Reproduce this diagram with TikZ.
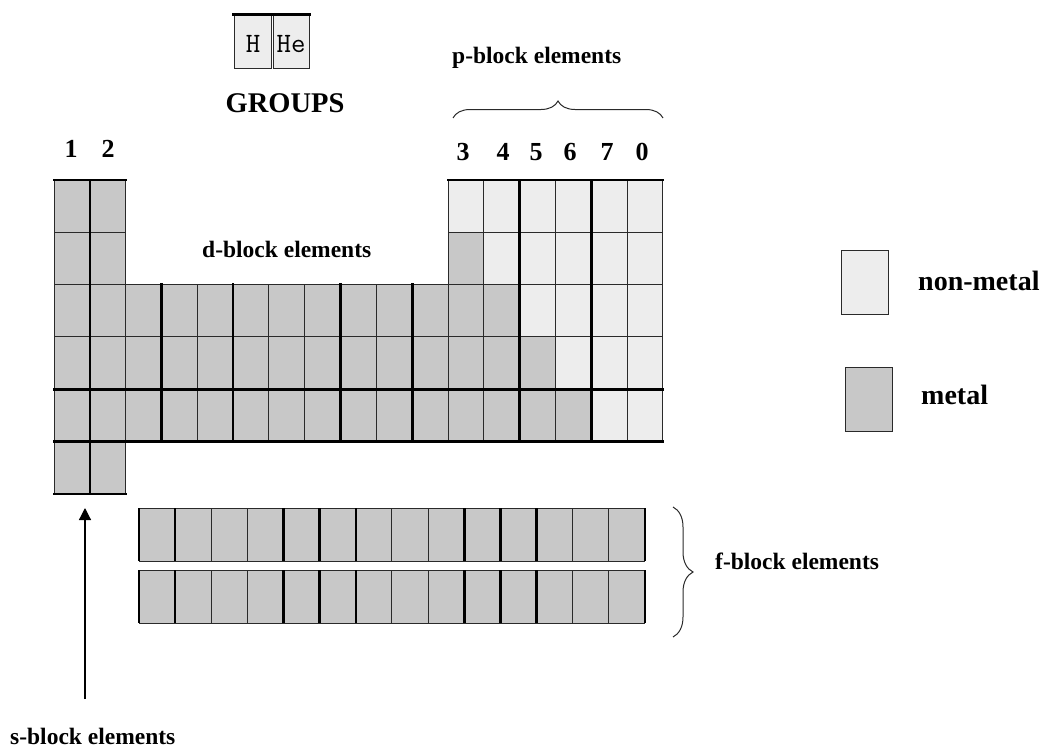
\documentclass[tikz,border=0pt]{standalone}
\usepackage{fontspec}
\setmainfont{Liberation Serif}
\usepackage{xcolor}
\usetikzlibrary{decorations.pathreplacing,arrows.meta}
\definecolor{metalgray}{HTML}{C8C8C8}
\definecolor{nonmetalgray}{HTML}{EDEDED}
\definecolor{edgegray}{HTML}{2A2A2A}

\tikzset{
  metal/.style={fill=metalgray,draw=edgegray,line width=1pt},
  nonmetal/.style={fill=nonmetalgray,draw=edgegray,line width=1pt},
  thickline/.style={line width=2.6pt,line cap=rect},
  blocklabel/.style={font=\fontsize{23.5}{28}\selectfont\bfseries,inner sep=0pt,anchor=base west},
  keylabel/.style={font=\fontsize{28}{32}\selectfont\bfseries,inner sep=0pt,anchor=base west},
  grouplabel/.style={font=\fontsize{26}{30}\selectfont\bfseries,inner sep=0pt,anchor=base},
  elbox/.style={nonmetal,minimum height=53pt,inner sep=0pt},
  eltext/.style={font=\fontsize{28}{30}\selectfont\ttfamily,inner sep=0pt,anchor=base},
}

\newcommand{\cw}{35.82}% column width
\newcommand{\rh}{52.33}% row height
\newcommand{\elcell}[3]{\path[#1] ({54+(#2-1)*\cw},{180+(#3-1)*\rh}) rectangle ++(\cw,\rh);}

\begin{document}
\begin{tikzpicture}[x=1pt,y=-1pt]
  \useasboundingbox (0,0) rectangle (1051,747);
  % H and He
  \node[elbox,minimum width=37pt] (hbox) at (252.5,41.5) {};
  \node[elbox,minimum width=36pt] (hebox) at (291,41.5) {};
  \draw[thickline] (hbox.north west) -- (hbox.north east);
  \draw[thickline] (hebox.north west) -- (hebox.north east);
  \node[eltext] (htext) at (253,52) {H};
  \node[eltext] (hetext) at (291,52) {He};
  \node[font=\fontsize{28.5}{32}\selectfont\bfseries,inner sep=0pt,anchor=base] (groups) at (285,112) {GROUPS};
  % group numbers
  \foreach \g/\x/\y in {1/71/157,2/108/157,3/463/160,4/503/160,5/536/160,6/570/160,7/607/160,0/642/160}
    \node[grouplabel] (g\g) at (\x,\y) {\g};
  % periods 2 and 3
  \foreach \r in {1,2} {\foreach \c in {1,2} {\elcell{metal}{\c}{\r}}}
  \foreach \c in {12,...,17} {\elcell{nonmetal}{\c}{1}}
  \elcell{metal}{12}{2}
  \foreach \c in {13,...,17} {\elcell{nonmetal}{\c}{2}}
  % periods 4 to 6
  \foreach \r/\m in {3/13,4/14,5/15} {
    \foreach \c in {1,...,17} {
      \ifnum\c>\m \elcell{nonmetal}{\c}{\r}\else \elcell{metal}{\c}{\r}\fi
    }
  }
  \foreach \c in {1,2} {\elcell{metal}{\c}{6}}
  % heavy rules
  \foreach \k/\ya/\yb in {1/0/6,3/2/5,5/2/5,8/2/5,10/2/5,13/0/5,15/0/5}
    \draw[thickline] ({54+\k*\cw},{180+\ya*\rh}) -- ({54+\k*\cw},{180+\yb*\rh});
  \draw[thickline] (54,180) -- ({54+2*\cw},180);
  \draw[thickline] ({54+11*\cw},180) -- ({54+17*\cw},180);
  \draw[thickline] (54,{180+4*\rh}) -- ({54+17*\cw},{180+4*\rh});
  \draw[thickline] (54,{180+5*\rh}) -- ({54+17*\cw},{180+5*\rh});
  \draw[thickline] (54,{180+6*\rh}) -- ({54+2*\cw},{180+6*\rh});
  \node[blocklabel] (dlabel) at (202,257) {d-block elements};
  % p-block brace
  \coordinate (pleft) at (453,118);
  \coordinate (pright) at (663,118);
  \draw[decorate,decoration={brace,amplitude=17pt},line width=1pt,edgegray] (pleft) -- (pright);
  \node[blocklabel] (plabel) at (452,63) {p-block elements};
  % f-block rows
  \foreach \r in {0,1} {
    \foreach \c in {0,...,13}
      \path[metal] ({139+\c*36.14},{508+\r*62}) rectangle ++(36.14,53);
    \foreach \k in {0,1,4,5,6,9,10,11,14}
      \draw[line width=2.6pt] ({139+\k*36.14},{508+\r*62}) -- ++(0,53);
  }
  \coordinate (ftop) at (673,507);
  \coordinate (fbot) at (673,637);
  \draw[decorate,decoration={brace,amplitude=20pt},line width=1pt,edgegray] (ftop) -- (fbot);
  \node[blocklabel] (flabel) at (715,569) {f-block elements};
  % s-block arrow
  \coordinate (stip) at (85,508);
  \coordinate (sbot) at (85,699);
  \draw[-{Triangle[length=12pt,width=12pt]},line width=1.2pt] (sbot) -- (stip);
  \node[blocklabel] (slabel) at (10,744) {s-block elements};
  % key
  \node[nonmetal,minimum width=47pt,minimum height=64pt,inner sep=0pt] (nmkey) at (864.5,282) {};
  \node[metal,minimum width=47pt,minimum height=64pt,inner sep=0pt] (mkey) at (868.5,399) {};
  \node[keylabel] (nmtext) at (918,290) {non-metal};
  \node[keylabel] (mtext) at (921,404) {metal};
\end{tikzpicture}
\end{document}
